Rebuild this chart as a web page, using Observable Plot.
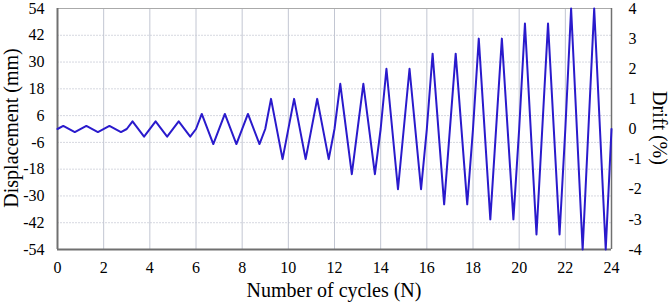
<!DOCTYPE html>
<html>
<head>
<meta charset="utf-8">
<script src="https://cdn.jsdelivr.net/npm/d3@7"></script>
<script src="https://cdn.jsdelivr.net/npm/@observablehq/plot@0.6"></script>
<style>
  html, body { margin: 0; padding: 0; background: #fff; }
  #chart { width: 671px; height: 304px; }
  #chart svg, #chart svg text { font-family: "Liberation Serif", "DejaVu Serif", serif !important; }
</style>
</head>
<body>
<div id="chart"></div>
<script>
// Loading protocol vertices: cycle number (N) and displacement (mm)
const cycleN = [
  0, 0.25, 0.75, 1.25, 1.75, 2.25, 2.75, 3,
  3.25, 3.75, 4.25, 4.75, 5.25, 5.75, 6,
  6.25, 6.75, 7.25, 7.75, 8.25, 8.75, 9,
  9.25, 9.75, 10.25, 10.75, 11.25, 11.75, 12,
  12.25, 12.75, 13.25, 13.75, 14,
  14.25, 14.75, 15.25, 15.75, 16,
  16.25, 16.75, 17.25, 17.75, 18,
  18.25, 18.75, 19.25, 19.75, 20,
  20.25, 20.75, 21.25, 21.75, 22,
  22.25, 22.75, 23.25, 23.75, 24
];
const displacement = [
  0, 1.35, -1.35, 1.35, -1.35, 1.35, -1.35, 0,
  3.4, -3.4, 3.4, -3.4, 3.4, -3.4, 0,
  6.75, -6.75, 6.75, -6.75, 6.75, -6.75, 0,
  13.5, -13.5, 13.5, -13.5, 13.5, -13.5, 0,
  20.25, -20.25, 20.25, -20.25, 0,
  27, -27, 27, -27, 0,
  33.75, -33.75, 33.75, -33.75, 0,
  40.5, -40.5, 40.5, -40.5, 0,
  47.25, -47.25, 47.25, -47.25, 0,
  54, -54, 54, -54, 0
];
const xTicks = [0, 2, 4, 6, 8, 10, 12, 14, 16, 18, 20, 22, 24];
const yTicks = [-54, -42, -30, -18, -6, 6, 18, 30, 42, 54];
const driftTicks = [-4, -3, -2, -1, 0, 1, 2, 3, 4];
const mmPerDrift = 13.5;

const data = cycleN.map((n, i) => ({n, d: displacement[i]}));

const font = "Liberation Serif";

const chart = Plot.plot({
  width: 671,
  height: 304,
  marginLeft: 57,
  marginRight: 60,
  marginTop: 8,
  marginBottom: 55,
  style: {fontFamily: font, fontSize: "15px", color: "#000", background: "#fff"},
  x: {domain: [0, 24]},
  y: {domain: [-54, 54]},
  marks: [
    Plot.gridY(yTicks.filter(t => t !== -54 && t !== 54), {stroke: "#d6d8e0", strokeOpacity: 1, strokeWidth: 1, strokeDasharray: "2,1"}),
    Plot.gridX(xTicks.filter(t => t !== 0 && t !== 24), {stroke: "#c2c6d2", strokeOpacity: 1, strokeWidth: 1}),
    Plot.ruleY([54], {stroke: "#aaa", strokeWidth: 1}),
    Plot.ruleX([24], {stroke: "#707070", strokeWidth: 1.5}),
    Plot.ruleX([0], {stroke: "#707070", strokeWidth: 2}),
    Plot.ruleY([-54], {stroke: "#707070", strokeWidth: 2}),
    Plot.axisX(xTicks, {tickSize: 0, tickPadding: 12, fontSize: 16, label: null}),
    Plot.axisY(yTicks, {anchor: "left", tickSize: 0, tickPadding: 13, fontSize: 16, label: null}),
    Plot.axisY(driftTicks.map(t => t * mmPerDrift), {
      anchor: "right", tickSize: 0, tickPadding: 17, fontSize: 16, label: null,
      tickFormat: d => String(Math.round(d / mmPerDrift))
    }),
    Plot.line(data, {x: "n", y: "d", stroke: "#2a1acc", strokeWidth: 2})
  ]
});

// Axis titles
const svg = d3.select(chart);
svg.append("text")
  .attr("x", 334).attr("y", 297)
  .attr("text-anchor", "middle")
  .attr("font-size", 20).attr("fill", "#000")
  .text("Number of cycles (N)");
svg.append("text")
  .attr("transform", "translate(18,128) rotate(-90)")
  .attr("text-anchor", "middle")
  .attr("font-size", 20).attr("fill", "#000")
  .text("Displacement (mm)");
svg.append("text")
  .attr("transform", "translate(653,128) rotate(90)")
  .attr("text-anchor", "middle")
  .attr("font-size", 20).attr("fill", "#000")
  .text("Drift (%)");

// Negative sign as plain hyphen like the reference
svg.selectAll("text").each(function() {
  const t = d3.select(this);
  if (t.text().includes("−")) t.text(t.text().replace("−", "-"));
});

document.getElementById("chart").appendChild(chart);
</script>
</body>
</html>
